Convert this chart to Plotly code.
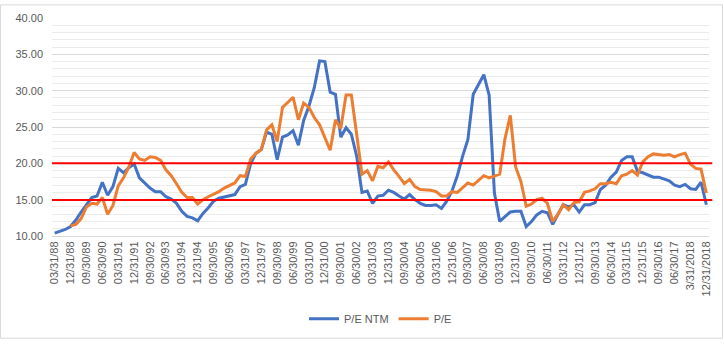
import plotly.graph_objects as go

# Quarter-end dates, 03/31/88 through 12/31/2018
quarter_ends = ["03/31", "06/30", "09/30", "12/31"]
categories = []
for year in range(1988, 2019):
    for q in quarter_ends:
        if year == 2018:
            m, d = q.split("/")
            categories.append(f"{int(m)}/{d}/{year}")
        else:
            categories.append(f"{q}/{year % 100:02d}")

# Forward P/E (next twelve months)
pe_ntm = [
    10.4, 10.6, 10.9, 11.3, 12.2, 13.3, 14.3, 15.3, 15.5, 17.4,
    15.6, 16.8, 19.3, 18.7, 19.4, 19.9, 18.0, 17.3, 16.6, 16.1,
    16.1, 15.4, 15.1, 14.5, 13.4, 12.7, 12.5, 12.1, 13.1, 13.9,
    14.8, 15.2, 15.4, 15.6, 15.7, 16.8, 17.1, 20.0, 21.4, 21.9,
    24.3, 24.0, 20.5, 23.6, 23.9, 24.5, 22.5, 25.9, 27.9, 30.4,
    34.1, 34.0, 29.8, 29.5, 23.6, 24.9, 24.0, 21.0, 16.0, 16.2,
    14.5, 15.5, 15.6, 16.3, 16.0, 15.5, 15.1, 15.7, 15.0, 14.5,
    14.2, 14.2, 14.3, 13.8, 14.8, 16.2, 18.3, 21.0, 23.3, 29.5,
    30.9, 32.2, 29.4, 15.9, 12.0, 12.7, 13.3, 13.4, 13.4, 11.3,
    12.0, 12.9, 13.4, 13.2, 11.6, 13.0, 14.3, 14.0, 14.3, 13.3,
    14.3, 14.3, 14.6, 16.4, 17.0, 18.1, 18.8, 20.4, 20.9, 20.9,
    18.9, 18.7, 18.4, 18.1, 18.1, 17.9, 17.6, 17.0, 16.8, 17.1,
    16.5, 16.4, 17.4, 14.3,
]

# Trailing P/E (series begins 12/31/88)
pe_trailing = [
    None, None, None, 11.4, 11.6, 12.4, 14.0, 14.5, 14.4, 15.3,
    13.0, 14.2, 16.9, 18.0, 19.5, 21.5, 20.6, 20.4, 20.9, 20.8,
    20.4, 19.1, 18.3, 17.2, 16.0, 15.3, 15.3, 14.4, 15.0, 15.4,
    15.7, 16.1, 16.6, 17.0, 17.3, 18.3, 18.2, 20.6, 21.4, 21.9,
    24.6, 25.3, 23.0, 27.7, 28.4, 29.1, 26.0, 28.3, 27.7, 26.3,
    25.3, 23.6, 21.8, 26.0, 24.8, 29.4, 29.4, 24.0, 18.5, 19.0,
    17.6, 19.6, 19.4, 20.2, 19.1, 18.2, 17.2, 17.8, 16.8, 16.4,
    16.4, 16.3, 16.1, 15.5, 15.5, 16.1, 16.0, 16.6, 17.3, 17.0,
    17.6, 18.3, 18.0, 18.2, 18.5, 23.4, 26.6, 19.5, 17.5, 14.1,
    14.4, 15.0, 15.2, 14.5, 12.0, 13.0, 14.3, 13.6, 14.6, 14.7,
    16.0, 16.2, 16.5, 17.2, 17.2, 17.4, 17.2, 18.3, 18.5, 19.0,
    18.4, 20.2, 20.9, 21.3, 21.2, 21.1, 21.2, 20.9, 21.2, 21.4,
    19.9, 19.3, 19.2, 15.9,
]

# Reference bands
upper_ref = 20.0
lower_ref = 14.95

y_ticks = [10, 15, 20, 25, 30, 35, 40]
tick_every = 3

BLUE = "#4472C4"
ORANGE = "#ED7D31"
TEXT = "#595959"
FONT = "Liberation Sans"

fig = go.Figure()
fig.add_trace(go.Scatter(
    x=categories, y=pe_ntm, mode="lines", name="P/E NTM",
    line=dict(color=BLUE, width=3),
))
fig.add_trace(go.Scatter(
    x=categories, y=pe_trailing, mode="lines", name="P/E",
    line=dict(color=ORANGE, width=3),
))

for level in (upper_ref, lower_ref):
    fig.add_shape(type="line", xref="paper", yref="y",
                  x0=0.0, x1=1.005, y0=level, y1=level,
                  line=dict(color="#FF0000", width=2), layer="above")

# Outer chart border
fig.add_shape(type="rect", xref="paper", yref="paper",
              x0=-0.0783, x1=1.0205, y0=-0.4689, y1=1.06,
              line=dict(color="#D9D9D9", width=1), fillcolor="rgba(0,0,0,0)",
              layer="below")

fig.update_layout(
    width=724, height=345,
    margin=dict(l=52, r=14, t=14, b=106),
    paper_bgcolor="white", plot_bgcolor="white",
    font=dict(family=FONT, color=TEXT, size=11),
    showlegend=True,
    legend=dict(orientation="h", x=0.5, xanchor="center",
                y=-0.38, yanchor="middle",
                font=dict(size=11, color=TEXT), itemwidth=30),
)
fig.update_xaxes(
    type="category", range=[-0.5, len(categories) - 0.5],
    tickmode="array", tickvals=categories[::tick_every],
    ticktext=categories[::tick_every],
    tickangle=-90, tickfont=dict(size=11, color=TEXT),
    showgrid=False, showline=True, linecolor="#D9D9D9", ticks="",
    zeroline=False,
)
fig.update_yaxes(
    range=[10, 40], tickmode="array", tickvals=y_ticks,
    ticktext=[f"{v:.2f}" for v in y_ticks],
    tickfont=dict(size=11, color=TEXT), ticklabelstandoff=8,
    showgrid=True, gridcolor="#D9D9D9", gridwidth=1,
    minor=dict(dtick=1, showgrid=True, gridcolor="#EBEBEB", gridwidth=1),
    zeroline=False, showline=False, ticks="",
)

fig.write_html("out.html")
